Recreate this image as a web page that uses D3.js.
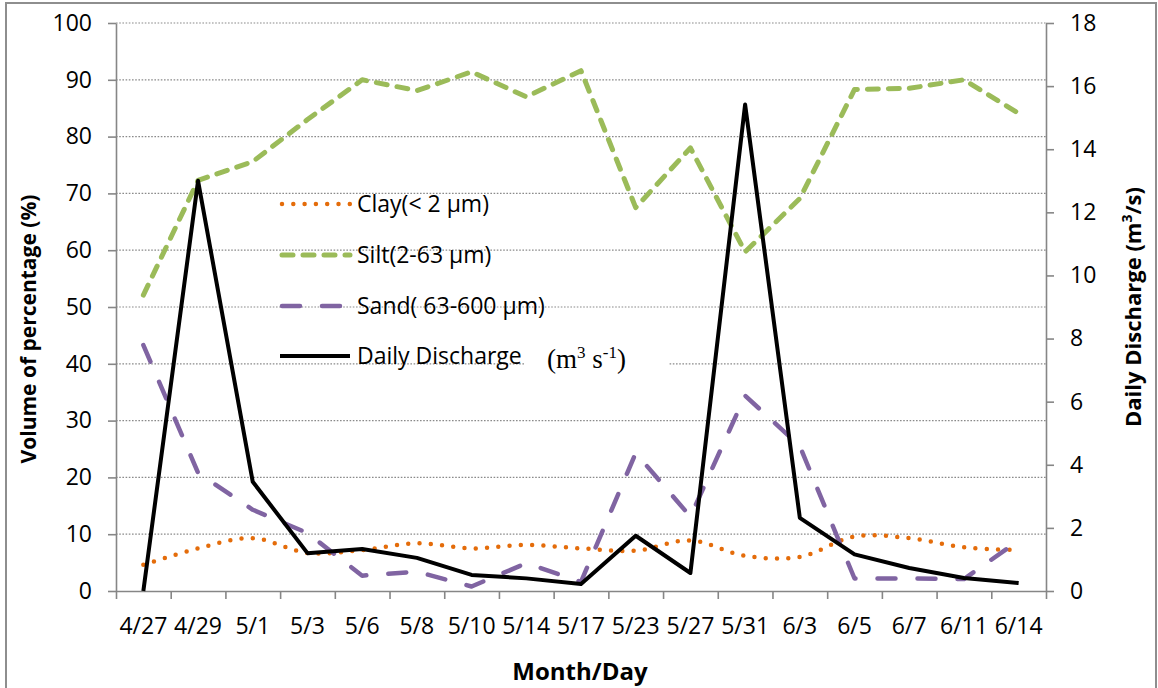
<!DOCTYPE html>
<html>
<head>
<meta charset="utf-8">
<script src="https://cdn.jsdelivr.net/npm/d3@7"></script>
<style>
  body { margin: 0; background: #fff; }
  svg { display: block; }
  text { font-family: "Open Sans", "Noto Sans", sans-serif; fill: #000; }
</style>
</head>
<body>
<svg id="chart" width="1158" height="688"></svg>
<script>
// Sampling dates (month/day)
const days = ["4/27", "4/29", "5/1", "5/3", "5/6", "5/8", "5/10", "5/14", "5/17",
              "5/23", "5/27", "5/31", "6/3", "6/5", "6/7", "6/11", "6/14"];

// Grain-size fractions, volume percentage (%)
const clay = [4.6, 7.5, 9.3, 6.7, 7.2, 8.4, 7.5, 8.1, 7.5, 7.1, 8.9, 6.2, 6.0, 9.6, 9.3, 7.7, 7.2];
const silt = [52.1, 72.3, 75.6, 83.0, 90.0, 88.1, 91.4, 87.0, 91.6, 67.5, 78.0, 59.7, 69.1, 88.3, 88.5, 90.0, 84.1];
const sand = [43.3, 20.8, 14.3, 10.2, 2.7, 3.4, 0.8, 4.9, 1.6, 24.3, 13.1, 34.4, 25.5, 2.2, 2.2, 2.1, 8.9];

// Daily discharge (m3/s)
const discharge = [0, 13.0, 3.46, 1.2, 1.33, 1.05, 0.51, 0.4, 0.22, 1.75, 0.57, 15.42, 2.32, 1.16, 0.73, 0.41, 0.25];

// Axis ticks
const pctTicks = d3.range(0, 101, 10);
const qTicks = d3.range(0, 19, 2);
const gridTicks = d3.range(10, 101, 10);

const svg = d3.select("#chart");
const plot = { left: 116, right: 1046, top: 23, bottom: 591 };
const axisGray = "#868686";

// Outer chart frame
svg.append("rect")
  .attr("x", 6).attr("y", 3).attr("width", 1150).attr("height", 700)
  .attr("fill", "none").attr("stroke", "#8e8e8e").attr("stroke-width", 2);

const x = d3.scaleBand().domain(days).range([plot.left, plot.right]).padding(0);
const xEdge = d3.scaleLinear().domain([0, days.length]).range([plot.left, plot.right]);
const yPct = d3.scaleLinear().domain([0, 100]).range([plot.bottom, plot.top]);
const yQ = d3.scaleLinear().domain([0, 18]).range([plot.bottom, plot.top]);
const cx = d => x(d) + x.bandwidth() / 2;

// Horizontal dotted gridlines
svg.append("g").selectAll("line").data(gridTicks).join("line")
  .attr("x1", plot.left).attr("x2", plot.right)
  .attr("y1", d => yPct(d)).attr("y2", d => yPct(d))
  .attr("stroke", "#8a8a8a").attr("stroke-width", 1.2)
  .attr("stroke-dasharray", "1.6,1.6");

function styleAxis(g) {
  g.select(".domain").attr("stroke", axisGray).attr("stroke-width", 1.6);
  g.selectAll(".tick line").attr("stroke", axisGray).attr("stroke-width", 1.6);
  g.selectAll(".tick text").attr("font-size", 23).attr("fill", "#000")
    .attr("font-family", "'Open Sans', sans-serif");
}

// Left axis: volume percentage
svg.append("g").attr("transform", `translate(${plot.left},0)`)
  .call(d3.axisLeft(yPct).tickValues(pctTicks).tickSize(8).tickSizeOuter(0).tickPadding(16))
  .call(styleAxis);

// Right axis: daily discharge
svg.append("g").attr("transform", `translate(${plot.right},0)`)
  .call(d3.axisRight(yQ).tickValues(qTicks).tickSize(8).tickSizeOuter(0).tickPadding(16))
  .call(styleAxis);

// Bottom axis: tick marks between categories
svg.append("g").attr("transform", `translate(0,${plot.bottom})`)
  .call(d3.axisBottom(xEdge).tickValues(d3.range(0, days.length + 1)).tickSize(8).tickSizeOuter(0).tickFormat(""))
  .call(styleAxis);

// Bottom axis: category labels
svg.append("g").attr("transform", `translate(0,${plot.bottom})`)
  .call(d3.axisBottom(x).tickSize(0).tickPadding(27))
  .call(g => g.select(".domain").remove())
  .call(styleAxis);

// Series
const lineFor = (yScale, curve) => d3.line()
  .x((d, i) => cx(days[i]))
  .y(d => yScale(d))
  .curve(curve || d3.curveLinear);

const series = [
  { name: "clay", values: clay, scale: yPct, curve: d3.curveCatmullRom.alpha(0.5),
    color: "#E46C0A", width: 4.5, dash: "0,11.3", cap: "round" },
  { name: "silt", values: silt, scale: yPct, curve: d3.curveLinear,
    color: "#9BBB59", width: 5, dash: "11,10", cap: "round" },
  { name: "sand", values: sand, scale: yPct, curve: d3.curveLinear,
    color: "#8064A2", width: 4.5, dash: "18,22", cap: "round" },
  { name: "discharge", values: discharge, scale: yQ, curve: d3.curveLinear,
    color: "#000000", width: 4, dash: null, cap: "butt" }
];

svg.append("g").selectAll("path").data(series).join("path")
  .attr("d", s => lineFor(s.scale, s.curve)(s.values))
  .attr("fill", "none")
  .attr("stroke", s => s.color)
  .attr("stroke-width", s => s.width)
  .attr("stroke-dasharray", s => s.dash)
  .attr("stroke-linecap", s => s.cap)
  .attr("stroke-linejoin", "round");

// Legend
const legendItems = [
  { label: "Clay(< 2 µm)", s: series[0], y: 204 },
  { label: "Silt(2-63 µm)", s: series[1], y: 255 },
  { label: "Sand( 63-600 µm)", s: series[2], y: 306 },
  { label: "Daily Discharge", s: series[3], y: 356 }
];
const leg = svg.append("g");
legendItems.forEach(it => {
  leg.append("line")
    .attr("x1", it.s.cap === "round" ? 282 : 280).attr("x2", 350)
    .attr("y1", it.y).attr("y2", it.y)
    .attr("stroke", it.s.color).attr("stroke-width", it.s.width)
    .attr("stroke-dasharray", it.s.dash).attr("stroke-linecap", it.s.cap);
  leg.append("text").attr("x", 357).attr("y", it.y)
    .attr("dy", "0.36em").attr("font-size", 23).text(it.label);
});

// Unit note next to the discharge legend entry
svg.append("rect").attr("x", 525).attr("y", 341).attr("width", 143).attr("height", 36).attr("fill", "#fff");
const unit = svg.append("text").attr("x", 547).attr("y", 368)
  .style("font-family", "'Liberation Serif', 'Times New Roman', serif").attr("font-size", 27);
unit.append("tspan").text("(m");
unit.append("tspan").attr("dy", -10).attr("font-size", 17).text("3");
unit.append("tspan").attr("dy", 10).text(" s");
unit.append("tspan").attr("dy", -10).attr("font-size", 17).text("-1");
unit.append("tspan").attr("dy", 10).text(")");

// Axis titles
svg.append("text")
  .attr("transform", "translate(36,329) rotate(-90)")
  .attr("text-anchor", "middle").attr("font-size", 21).attr("font-weight", "bold")
  .text("Volume of percentage (%)");

const rt = svg.append("text")
  .attr("transform", "translate(1141,307) rotate(-90)")
  .attr("text-anchor", "middle").attr("font-size", 22).attr("font-weight", "bold");
rt.append("tspan").text("Daily Discharge (m");
rt.append("tspan").attr("dy", -9).attr("font-size", 14).text("3");
rt.append("tspan").attr("dy", 9).text("/s)");

svg.append("text")
  .attr("x", 580).attr("y", 680)
  .attr("text-anchor", "middle").attr("font-size", 24).attr("font-weight", "bold")
  .text("Month/Day");
</script>
</body>
</html>
